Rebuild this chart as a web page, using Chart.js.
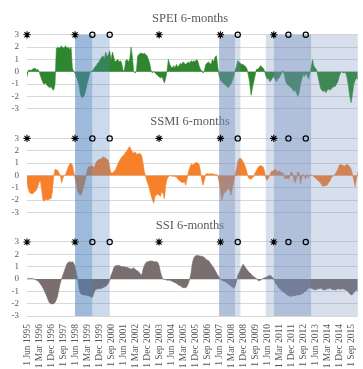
<!DOCTYPE html>
<html>
<head>
    <title>SPEI, SSMI and SSI 6-months</title>
    <meta charset="UTF-8">
    <style>
        html, body { margin: 0; padding: 0; background: #fff; overflow: hidden; }
    </style>
</head>
<body>
<canvas id="myChart" width="363" height="369"></canvas>
<script src="https://cdn.jsdelivr.net/npm/chart.js@4.4.1/dist/chart.umd.min.js"></script>
<script>
    // one value per month, starting 1 Jun 1995
    var spei = [
        -0.4, 0.1, 0.15, 0.1, 0.2, 0.25, 0.3, 0.15, 0.2, 0.05, -0.3, -0.6,
        -0.9, -1.0, -0.9, -1.1, -1.2, -1.3, -1.2, -1.4, -1.5, -1.0, 1.9, 2.0,
        1.9, 2.0, 2.1, 1.9, 2.0, 2.1, 1.9, 2.0, 1.8, 2.0, 0.3, 0.0,
        -0.1, -0.4, -0.7, -1.1, -1.8, -2.1, -2.05, -1.9, -1.5, -1.0, -0.6, -0.1,
        0.0, 0.1, 0.2, 0.4, 0.5, 0.7, 0.8, 1.0, 1.2, 1.3, 1.0, 1.6,
        1.2, 1.4, 1.7, 0.9, 1.6, 1.2, 0.8, 0.9, 1.0, 0.8, 0.9, 0.7,
        0.1, 0.1, 0.9, 1.0, 0.8, 1.0, 2.0, 1.2, 0.0, -0.1, 0.05, 1.3,
        1.4, 1.5, 1.5, 1.45, 1.5, 1.4, 1.3, 1.0, 0.7, 0.1, -0.1, 0.05,
        -0.1, -0.2, -0.3, -0.4, -0.5, -0.4, -0.6, -0.9, -0.5, 0.1, 1.0, 0.6,
        0.4, 0.3, 0.5, 0.3, 0.6, 0.4, 0.5, 0.7, 0.6, 0.8, 0.7, 0.6,
        0.7, 0.8, 0.7, 0.9, 0.8, 0.9, 0.8, 1.0, 0.9, 0.5, 0.2, 0.1,
        -0.1, 0.1, 0.6, 0.7, 0.8, 0.7, 0.6, 1.0, 0.8, 1.2, 1.3, 0.4,
        -0.3, -0.7, -0.8, -0.9, -1.0, -1.1, -1.2, -1.3, -1.1, -1.0, -0.7, -0.4,
        0.1, 0.4, 0.9, 0.8, 0.7, 0.6, 0.6, 0.5, 0.4, 0.2, -0.3, -0.9,
        -1.9, -1.3, -0.8, -0.3, 0.2, 0.2, 0.3, 0.5, 0.4, 0.3, 0.1, -0.3,
        -0.6, -0.5, -0.8, -0.7, -0.5, -0.4, -0.6, -0.8, -0.6, -0.5, -0.3, -0.1,
        0.1, -0.3, -0.8, -1.0, -1.1, -1.2, -1.3, -1.4, -1.6, -1.5, -1.7, -2.0,
        -1.7, -1.0, -0.6, -0.2, -0.4, -0.1, -0.3, -0.6, -0.2, 0.3, 1.0, 0.5,
        0.3, 0.2, -0.3, -0.8, -1.3, -1.5, -1.6, -1.5, -1.7, -1.5, -1.4, -1.5,
        -1.4, -1.3, -1.2, -1.2, -1.0, -0.8, -0.4, -0.1, 0.0, -0.1, -0.05, -0.1,
        -0.5, -1.2, -2.0, -2.5, -1.8, -1.0, -0.7, -0.5, -0.6
    ];
    var ssmi = [
        -0.5, -1.1, -1.4, -1.45, -1.5, -1.4, -1.3, -1.2, -0.9, -0.6, -0.35, -1.2,
        -2.0, -2.1, -1.9, -2.0, -2.0, -1.9, -1.9, -1.3, -0.1, 0.5, 0.45, 0.4,
        0.2, 0.0, -0.6, -0.2, 0.0, 0.1, 0.4, 0.7, 0.9, 1.0, 0.85, 0.3,
        -0.2, -0.7, -1.3, -1.5, -1.6, -1.5, -1.1, -0.7, -0.3, 0.4, 0.7, 0.7,
        0.75, 0.8, 0.6, 0.8, 1.1, 1.2, 1.3, 1.3, 1.4, 1.5, 1.45, 1.4,
        1.3, 1.2, 0.6, 0.2, 0.2, 0.3, 0.4, 0.6, 0.9, 1.1, 1.3, 1.5,
        1.6, 1.7, 1.9, 2.0, 2.2, 2.35, 2.1, 1.9, 1.8, 1.9, 1.75, 1.7,
        1.8, 1.75, 1.6, 1.0, 0.3, -0.1, -0.5, -0.8, -1.2, -1.6, -2.0, -2.25,
        -1.7, -1.6, -1.5, -1.6, -1.7, -1.3, -1.5, -1.9, -0.8, -0.3, -0.1, -0.05,
        0.0, -0.1, -0.05, -0.1, -0.1, -0.3, -0.4, -0.5, -0.55, -0.6, -0.5, -0.8,
        -0.3, 0.3, 0.6, 0.9, 0.85, 0.9, 1.0, 1.05, 1.0, 0.9, 0.4, -0.4,
        -0.8, -0.4, 0.1, 0.15, 0.1, 0.15, 0.1, 0.15, 0.1, 0.05, 0.1, 0.0,
        -0.5, -1.2, -2.0, -1.6, -1.4, -1.3, -1.2, -1.0, -1.2, -1.6, -1.0, -0.5,
        0.1, 0.5, 1.1, 1.35, 1.4, 1.3, 1.1, 0.9, 0.6, 0.2, -0.2, -0.3,
        -0.3, -0.2, -0.1, 0.2, 0.4, 0.6, 0.75, 0.8, 0.75, 0.7, 0.4, -0.2,
        -0.4, -0.2, 0.0, 0.3, 0.35, 0.4, 0.5, 0.4, 0.3, 0.35, 0.3, 0.2,
        0.2, -0.2, -0.3, -0.2, -0.3, -0.1, 0.3, 0.2, -0.3, -0.6, -0.3, 0.3,
        0.2, -0.7, -0.2, 0.1, -0.1, -0.3, 0.1, -0.2, 0.0, 0.05, 0.0, -0.1,
        -0.2, -0.3, -0.4, -0.5, -0.6, -0.8, -0.9, -0.85, -0.8, -0.8, -0.6, -0.5,
        -0.2, -0.1, 0.0, 0.1, 0.3, 0.5, 0.8, 0.9, 0.85, 0.8, 0.75, 0.85,
        0.9, 0.8, 0.7, 0.5, 0.1, -0.4, -0.9, -0.3, 0.3
    ];
    var ssi = [
        0.0, 0.05, 0.05, 0.03, 0.05, 0.0, -0.02, -0.1, -0.15, -0.25, -0.4, -0.55,
        -0.75, -0.95, -1.2, -1.45, -1.75, -1.95, -2.0, -2.02, -2.0, -1.9, -1.7, -1.35,
        -0.8, -0.3, 0.05, 0.35, 0.65, 0.95, 1.25, 1.35, 1.4, 1.35, 1.4, 1.3,
        1.0, 0.5, 0.0, -0.8, -1.15, -1.25, -1.3, -1.3, -1.3, -1.35, -1.35, -1.4,
        -1.45, -1.5, -1.2, -0.9, -0.85, -0.8, -0.8, -0.8, -0.75, -0.7, -0.65, -0.6,
        -0.5, -0.35, -0.1, 0.3, 0.55, 0.9, 1.05, 1.1, 1.1, 1.1, 1.05, 1.0,
        1.0, 1.0, 0.95, 0.95, 0.9, 0.85, 0.8, 0.85, 0.9, 0.8, 0.7, 0.65,
        0.55, 0.4, 0.3, 0.8, 1.1, 1.3, 1.4, 1.4, 1.45, 1.45, 1.45, 1.4,
        1.4, 1.4, 1.35, 1.1, 0.6, 0.2, 0.0, -0.05, -0.05, -0.1, -0.1, -0.1,
        -0.15, -0.2, -0.25, -0.3, -0.35, -0.45, -0.5, -0.55, -0.65, -0.7, -0.7, -0.7,
        -0.6, -0.35, 0.0, 0.5, 1.3, 1.7, 1.85, 1.9, 1.9, 1.88, 1.85, 1.85,
        1.8, 1.75, 1.6, 1.55, 1.5, 1.35, 1.2, 1.05, 0.9, 0.7, 0.5, 0.3,
        0.15, 0.05, -0.1, -0.15, -0.2, -0.25, -0.35, -0.4, -0.5, -0.6, -0.65, -0.75,
        -0.6, -0.2, 0.3, 0.5, 0.75, 1.0, 1.2, 1.05, 0.9, 0.75, 0.6, 0.5,
        0.4, 0.25, 0.2, 0.1, 0.05, -0.1, -0.15, -0.1, 0.0, 0.05, 0.1, 0.1,
        0.2, 0.25, 0.3, 0.25, 0.15, 0.0, -0.3, -0.45, -0.6, -0.75, -0.85, -0.95,
        -1.05, -1.1, -1.2, -1.3, -1.35, -1.4, -1.4, -1.38, -1.35, -1.35, -1.3, -1.3,
        -1.3, -1.25, -1.2, -1.15, -1.05, -1.0, -0.85, -0.8, -0.7, -0.75, -0.8, -0.85,
        -0.9, -0.85, -0.8, -0.8, -0.75, -0.8, -0.85, -0.9, -0.85, -0.8, -0.8, -0.75,
        -0.8, -0.85, -0.85, -0.9, -0.85, -0.8, -0.8, -0.85, -0.8, -0.8, -0.85, -0.9,
        -0.95, -1.05, -1.2, -1.3, -1.25, -1.1, -1.0, -0.9, -1.0
    ];
    var tickLabels = [
        '1 Jun 1995', '1 Mar 1996', '1 Dec 1996', '1 Sep 1997', '1 Jun 1998', '1 Mar 1999', '1 Dec 1999',
        '1 Sep 2000', '1 Jun 2001', '1 Mar 2002', '1 Dec 2002', '1 Sep 2003', '1 Jun 2004', '1 Mar 2005',
        '1 Dec 2005', '1 Sep 2006', '1 Jun 2007', '1 Mar 2008', '1 Dec 2008', '1 Sep 2009', '1 Jun 2010',
        '1 Mar 2011', '1 Dec 2011', '1 Sep 2012', '1 Jun 2013', '1 Mar 2014', '1 Dec 2014', '1 Sep 2015'
    ];
    var yTicks = [-3, -2, -1, 0, 1, 2, 3];
    var titles = ['SPEI 6-months', 'SSMI 6-months', 'SSI 6-months'];
    // month index (from Jun 1995) of the * and o marks
    var starMonths = [0, 36, 99, 145, 185];
    var circleMonths = [49, 62, 158, 196, 209];
    // shaded periods [from, to] in month index
    var periods = [[36, 49], [49, 62], [144, 156], [156, 160], [179, 185], [185, 213], [213, 248]];

    var monthNames = ['Jan', 'Feb', 'Mar', 'Apr', 'May', 'Jun', 'Jul', 'Aug', 'Sep', 'Oct', 'Nov', 'Dec'];
    var months = [];
    for (let i = 0; i < spei.length; i++) {
        months.push('1 ' + monthNames[(5 + i) % 12] + ' ' + (1995 + Math.floor((5 + i) / 12)));
    }

    var axisIds = ['ySPEI', 'ySSMI', 'ySSI'];
    var fills = ['#2e862e', '#f7802a', '#7a6e6e'];
    var periodColors = ['rgba(79,129,189,0.55)', 'rgba(79,129,189,0.3)',
        'rgba(112,140,190,0.55)', 'rgba(112,140,190,0.28)',
        'rgba(112,140,190,0.28)', 'rgba(112,140,190,0.55)', 'rgba(112,140,190,0.28)'];

    Chart.defaults.font.family = "'Liberation Serif', 'Times New Roman', serif";
    Chart.defaults.color = '#595959';

    function panelAxis(w) {
        return {
            type: 'linear', position: 'left', stack: 'panels', stackWeight: 1, weight: w,
            min: -3, max: 5.4,
            afterBuildTicks: function (s) { s.ticks = yTicks.map(v => ({value: v})); },
            afterFit: function (s) { s.width = 27; s.paddingTop = 0; s.paddingBottom = 0; },
            grid: {color: '#d9d9d9', drawTicks: false},
            border: {display: false},
            ticks: {padding: 8, font: {size: 9}, autoSkip: false}
        };
    }

    var datasets = [];
    [spei, ssmi, ssi].forEach(function (values, k) {
        datasets.push({
            data: values, yAxisID: axisIds[k], fill: 'origin',
            backgroundColor: fills[k], borderColor: fills[k], borderWidth: 0.6,
            pointRadius: 0, tension: 0, order: 2
        });
    });
    axisIds.forEach(function (id) {
        datasets.push({
            data: starMonths.map(m => ({x: months[m], y: 3})), yAxisID: id, showLine: false, clip: false,
            pointStyle: 'star', pointRadius: 3.6, borderColor: '#000', borderWidth: 1.1, order: 1
        });
        datasets.push({
            data: circleMonths.map(m => ({x: months[m], y: 3})), yAxisID: id, showLine: false, clip: false,
            pointStyle: 'circle', pointRadius: 2.6, borderColor: '#000', backgroundColor: 'rgba(0,0,0,0)',
            borderWidth: 1.2, order: 1
        });
    });

    var panelTitles = {
        id: 'panelTitles',
        beforeDatasetsDraw: function (chart) {
            var ctx = chart.ctx;
            ctx.save();
            ctx.font = "12.5px 'Liberation Serif'";
            ctx.fillStyle = '#595959';
            ctx.textAlign = 'center';
            ctx.textBaseline = 'middle';
            axisIds.forEach(function (id, k) {
                ctx.fillText(titles[k], 190, chart.scales[id].getPixelForValue(4.33));
            });
            ctx.restore();
        }
    };
    var shading = {
        id: 'shading',
        afterDatasetDraw: function (chart, args) {
            if (args.index !== 0) return;
            var ctx = chart.ctx;
            var xs = chart.scales.x;
            var top = chart.scales.ySPEI.getPixelForValue(3);
            var bottom = chart.scales.ySSI.getPixelForValue(-3);
            ctx.save();
            periods.forEach(function (p, k) {
                var x0 = xs.getPixelForValue(p[0]);
                var x1 = xs.getPixelForValue(p[1]);
                ctx.fillStyle = periodColors[k];
                ctx.fillRect(x0, top, x1 - x0, bottom - top);
            });
            ctx.restore();
        }
    };

    var ctx = document.getElementById('myChart').getContext('2d');
    var myChart = new Chart(ctx, {
        type: 'line',
        data: {labels: months, datasets: datasets},
        plugins: [panelTitles, shading],
        options: {
            responsive: false,
            animation: false,
            devicePixelRatio: 1,
            layout: {padding: {top: 2, left: 0, right: 0, bottom: 0}},
            plugins: {legend: {display: false}, tooltip: {enabled: false}},
            scales: {
                x: {
                    type: 'category',
                    grid: {display: false, drawTicks: false},
                    border: {display: false},
                    afterFit: function (s) { s.height = 53; s.paddingLeft = 0; s.paddingRight = 0; },
                    ticks: {
                        autoSkip: false, maxRotation: 90, minRotation: 90, padding: 8,
                        font: {size: 9.5},
                        callback: function (v) {
                            var l = this.getLabelForValue(v);
                            return tickLabels.indexOf(l) >= 0 ? l : null;
                        }
                    }
                },
                ySSI: panelAxis(1),
                ySSMI: panelAxis(2),
                ySPEI: panelAxis(3)
            }
        }
    });
</script>
</body>
</html>
